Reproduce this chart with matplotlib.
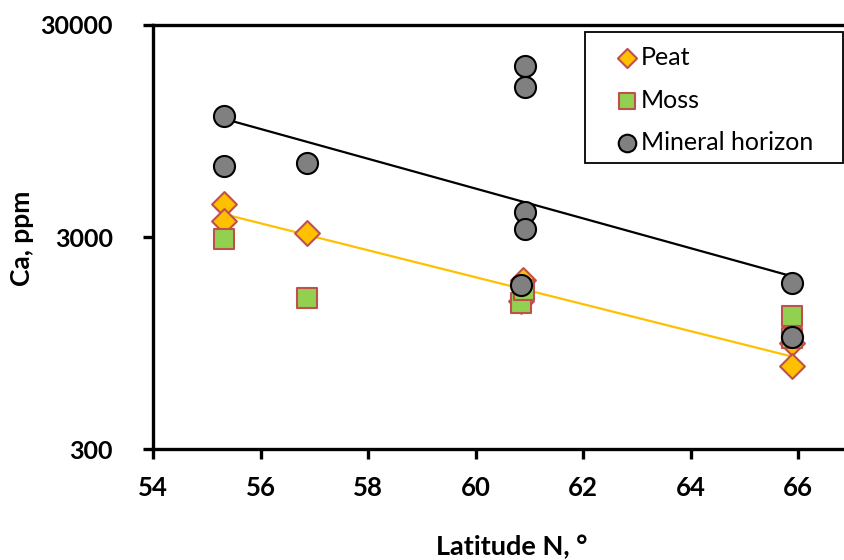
# ===================
# Part 1: Importing Libraries
# ===================
import numpy as np
import matplotlib.pyplot as plt
from matplotlib.patches import Rectangle
from matplotlib.ticker import FixedLocator, NullLocator

# ===================
# Part 2: Data Preparation
# ===================
peat_lat = [55.33, 55.33, 56.86, 60.88, 60.85, 65.88, 65.88]
peat_ca = [4320, 3575, 3126, 1893, 1500, 953, 737]

moss_lat = [55.33, 56.86, 60.85, 60.90, 65.88, 65.88]
moss_ca = [2929, 1553, 1470, 1698, 1272, 1000]

mineral_lat = [55.33, 55.33, 56.86, 60.92, 60.92, 60.92, 60.92, 60.85, 65.88, 65.88]
mineral_ca = [11213, 6505, 6700, 19320, 15270, 3943, 3291, 1780, 1829, 1011]

# trend lines (start / end)
trend_lat = [55.33, 65.88]
mineral_trend = [10820, 1964]
organic_trend = [3846, 822]

yticks = [300, 3000, 30000]
xticks = [54, 56, 58, 60, 62, 64, 66]

# ===================
# Part 3: Plot Configuration and Rendering
# ===================
plt.rcParams['font.family'] = ['Lato', 'DejaVu Sans']

W, H = 844, 560
fig = plt.figure(figsize=(W / 100, H / 100), dpi=100)
ax = fig.add_axes([153 / W, (H - 449.3) / H, 1 - 153 / W, (449.3 - 25) / H])

ax.plot(trend_lat, mineral_trend, color="black", lw=1.6, zorder=2)
ax.plot(trend_lat, organic_trend, color="#FFC000", lw=1.6, zorder=2)

ax.scatter(peat_lat, peat_ca, marker="D", s=160, color="#FFC000",
           edgecolor="#C0504D", linewidth=1.5, zorder=3, label="Peat")
ax.scatter(moss_lat, moss_ca, marker="s", s=210, color="#92D050",
           edgecolor="#C0504D", linewidth=1.5, zorder=4, label="Moss")
ax.scatter(mineral_lat, mineral_ca, marker="o", s=230, color="#808080",
           edgecolor="black", linewidth=1.5, zorder=5, label="Mineral horizon")

ax.set_yscale("log")
ax.set_ylim(300, 30000)
ax.set_xlim(54, 54 + (W - 153) / 53.75)
ax.yaxis.set_major_locator(FixedLocator(yticks))
ax.yaxis.set_minor_locator(NullLocator())
ax.set_yticklabels([str(v) for v in yticks])
ax.set_xticks(xticks)

for side in ["left", "bottom", "top"]:
    ax.spines[side].set_linewidth(2.4)
ax.spines["right"].set_visible(False)
ax.tick_params(axis="x", direction="out", length=7, width=2.4,
               labelsize=18.5, pad=12)
ax.tick_params(axis="y", direction="out", length=7, width=2.4,
               labelsize=18, pad=22)
for lab in ax.get_xticklabels() + ax.get_yticklabels():
    lab.set_fontweight("bold")

fig.text(22 / W, 1 - 238 / H, "Ca, ppm", rotation=90, ha="center",
         va="center", fontsize=19, fontweight="bold")
fig.text(512 / W, 1 - 547 / H, "Latitude N, °", ha="center",
         va="center", fontsize=19.5, fontweight="bold")

# legend box drawn separately so the padding can match the reference
box = Rectangle((585 / W, 1 - 163 / H), (843 - 585) / W, (163 - 32) / H,
                transform=fig.transFigure, facecolor="white",
                edgecolor="black", linewidth=1.3, zorder=8, clip_on=False)
ax.add_patch(box)
leg = ax.legend(loc="upper left", bbox_to_anchor=(619 / W, 1 - 46 / H),
                bbox_transform=fig.transFigure, frameon=False,
                fontsize=18, labelspacing=0.78, handletextpad=0.24,
                handlelength=0.64, borderpad=0, borderaxespad=0,
                scatterpoints=1)
leg.set_zorder(10)
leg.legend_handles[0].set_sizes([95])
leg.legend_handles[1].set_sizes([140])
leg.legend_handles[2].set_sizes([160])

# ===================
# Part 4: Saving Output
# ===================
plt.savefig("out.png", dpi=100)
